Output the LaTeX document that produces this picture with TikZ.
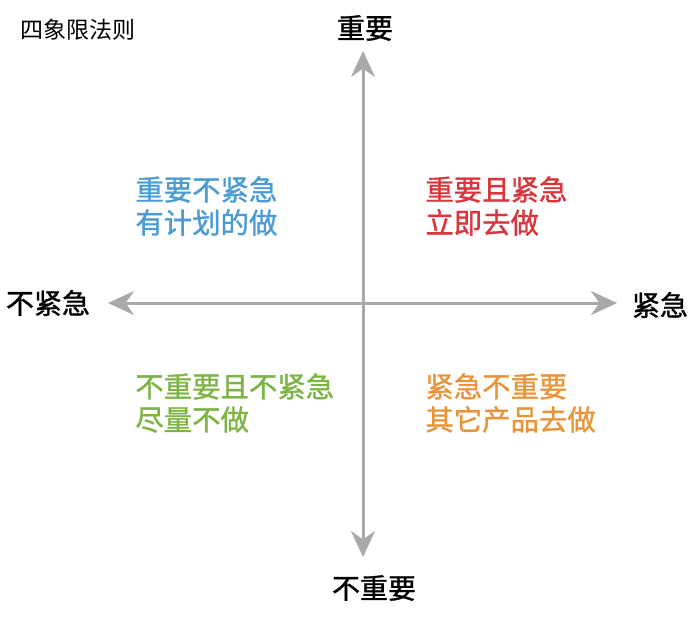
\documentclass[tikz,border=0pt]{standalone}
\usepackage{fontspec}
\usepackage{xcolor}
\usetikzlibrary{arrows.meta}
\setmainfont{Noto Sans CJK SC}
\newfontfamily\cjkmed[FakeBold=1.2]{Noto Sans CJK SC}
\definecolor{axisgray}{HTML}{A9A9A9}
\definecolor{qblue}{HTML}{4C9CD4}
\definecolor{qred}{HTML}{D8363C}
\definecolor{qgreen}{HTML}{7DB446}
\definecolor{qorange}{HTML}{E8953A}
\begin{document}
\begin{tikzpicture}[x=0.5pt, y=-0.5pt,
          axis/.style={{Stealth[length=13pt,width=12pt]}-{Stealth[length=13pt,width=12pt]},
                       line width=1.5pt, axisgray},
          axlabel/.style={font=\cjkmed\fontsize{14pt}{16pt}\selectfont, inner sep=0pt},
          quad/.style={font=\cjkmed\fontsize{14.2pt}{16.5pt}\selectfont, anchor=west,
                       align=left, inner sep=0pt}
        ]
        \useasboundingbox (0,0) rectangle (700,616);
        %% Title
        \node[anchor=west, inner sep=0pt, font=\fontsize{11.5pt}{13pt}\selectfont]
              (title) at (20,30) {四象限法则};
        %% Axis ends
        \coordinate (top) at (363,51);
        \coordinate (bottom) at (363,557);
        \coordinate (left) at (108,303);
        \coordinate (right) at (617,303);
        %% Axes
        \draw[axis] (bottom) -- (top);
        \draw[axis] (left) -- (right);
        %% Axis labels
        \node[axlabel] (imp) at (365,28) {重要};
        \node[axlabel] (notimp) at (374,588) {不重要};
        \node[axlabel] (noturg) at (48,303) {不紧急};
        \node[axlabel] (urg) at (660,305) {紧急};
        %% Quadrants
        \node[quad, qblue] (q2) at (135,206) {重要不紧急\\有计划的做};
        \node[quad, qred] (q1) at (425,206) {重要且紧急\\立即去做};
        \node[quad, qgreen] (q3) at (135,403) {不重要且不紧急\\尽量不做};
        \node[quad, qorange] (q4) at (425,403) {紧急不重要\\其它产品去做};
      \end{tikzpicture}
\end{document}
